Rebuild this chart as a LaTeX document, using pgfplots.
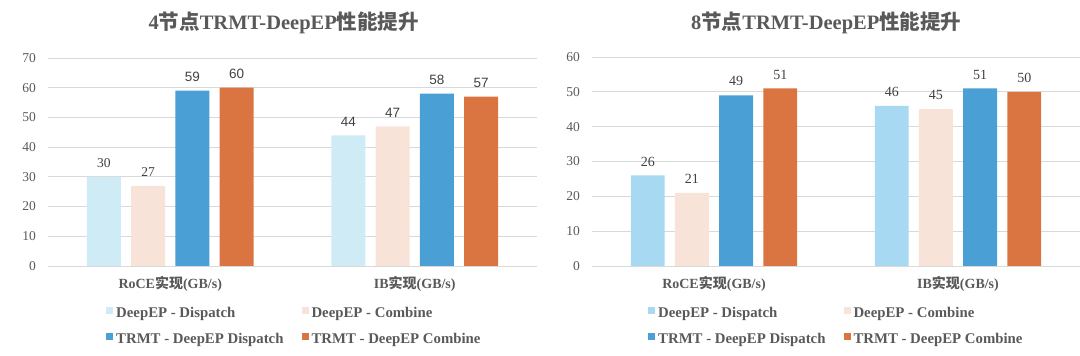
\documentclass[border=0pt]{standalone}
\usepackage{fontspec}
\setmainfont{Liberation Serif}
\newfontfamily\cjk{Noto Sans CJK SC}
\newfontfamily\sansnum{Liberation Sans}
\usepackage{pgfplots}
\pgfplotsset{compat=1.18}
\definecolor{ltblueA}{HTML}{CFEBF6}
\definecolor{ltblueB}{HTML}{A8D9F2}
\definecolor{peach}{HTML}{F8E3D9}
\definecolor{midblue}{HTML}{4A9FD4}
\definecolor{orng}{HTML}{DA7541}
\definecolor{gridc}{HTML}{D9D9D9}
\definecolor{txt}{HTML}{595959}
\definecolor{lbl}{HTML}{404040}
\protected\def\sn#1{{\sansnum #1}}
\begin{document}
\begin{tikzpicture}
\useasboundingbox (0pt,0pt) rectangle (1080pt,356pt);
\pgfplotsset{
  common/.style={
    scale only axis, ybar, bar width=0.139,
    xmin=-0.5, xmax=1.5, ymin=0,
    xtick={0,1},
    xticklabels={{RoCE{\cjk 实现}(GB/s)},{IB{\cjk 实现}(GB/s)}},
    axis line style={draw=none}, major tick length=0pt,
    ymajorgrids, grid style={draw=gridc, line width=0.8pt},
    /pgf/number format/assume math mode=true,
    yticklabel style={font=\fontsize{13.5}{14}\selectfont, text=txt, inner sep=0pt, xshift=-12pt},
    xticklabel style={font=\fontsize{14}{16}\selectfont\bfseries, text=txt, inner sep=0pt, anchor=base, yshift=-23pt},
    title style={font=\fontsize{20.5}{22}\selectfont\bfseries, text=txt, anchor=center, inner sep=0pt},
    legend columns=2,
    legend cell align=left,
    legend image code/.code={\fill[##1] (0pt,0.5pt) rectangle (7pt,7.5pt);},
    legend style={draw=none, fill=none, anchor=north west,
      font=\fontsize{14.8}{16}\selectfont\bfseries, text=txt,
      nodes={inner xsep=3pt, inner ysep=0pt, text height=10pt, text depth=3pt},
      row sep=12pt,
      /tikz/every even column/.append style={column sep=15pt}},
    nodes near coords,
    every node near coord/.append style={inner sep=0pt, yshift=9pt, text=lbl},
  },
  bars/.style={bar shift=0pt, fill=#1, draw=none},
}
% ---------- left panel ----------
\begin{axis}[common,
  at={(48pt,90pt)}, anchor=south west, width=489pt, height=208pt,
  ymax=70, ytick={0,10,...,70},
  title={4{\cjk 节点}TRMT-DeepEP{\cjk 性能提升}},
  title style={at={(0.482,1)}, yshift=29pt},
  legend style={at={(0.1125,-0.185)}},
  point meta=explicit symbolic,
  nodes near coords={\pgfplotspointmeta},
  every node near coord/.append style={font=\fontsize{13.5}{14}\selectfont},
]
\addplot[bars=ltblueA] coordinates {(-0.2715,30) [30] (0.7285,44) [\sn{44}]};
\addplot[bars=peach] coordinates {(-0.0905,27) [27] (0.9095,47) [\sn{47}]};
\addplot[bars=midblue] coordinates {(0.0905,59) [\sn{59}] (1.0905,58) [\sn{58}]};
\addplot[bars=orng] coordinates {(0.2715,60) [\sn{60}] (1.2715,57) [\sn{57}]};
\legend{DeepEP - Dispatch, DeepEP - Combine, TRMT - DeepEP Dispatch, TRMT - DeepEP Combine}
\end{axis}
% ---------- right panel ----------
\begin{axis}[common,
  at={(592pt,90pt)}, anchor=south west, width=488pt, height=209pt,
  ymax=60, ytick={0,10,...,60},
  title={8{\cjk 节点}TRMT-DeepEP{\cjk 性能提升}},
  title style={at={(0.48,1)}, yshift=28pt},
  legend style={at={(0.1086,-0.184)}},
  every node near coord/.append style={font=\fontsize{14}{15}\selectfont},
]
\addplot[bars=ltblueB] coordinates {(-0.2715,26) (0.7285,46)};
\addplot[bars=peach] coordinates {(-0.0905,21) (0.9095,45)};
\addplot[bars=midblue] coordinates {(0.0905,49) (1.0905,51)};
\addplot[bars=orng] coordinates {(0.2715,51) (1.2715,50)};
\legend{DeepEP - Dispatch, DeepEP - Combine, TRMT - DeepEP Dispatch, TRMT - DeepEP Combine}
\end{axis}
\end{tikzpicture}
\end{document}
